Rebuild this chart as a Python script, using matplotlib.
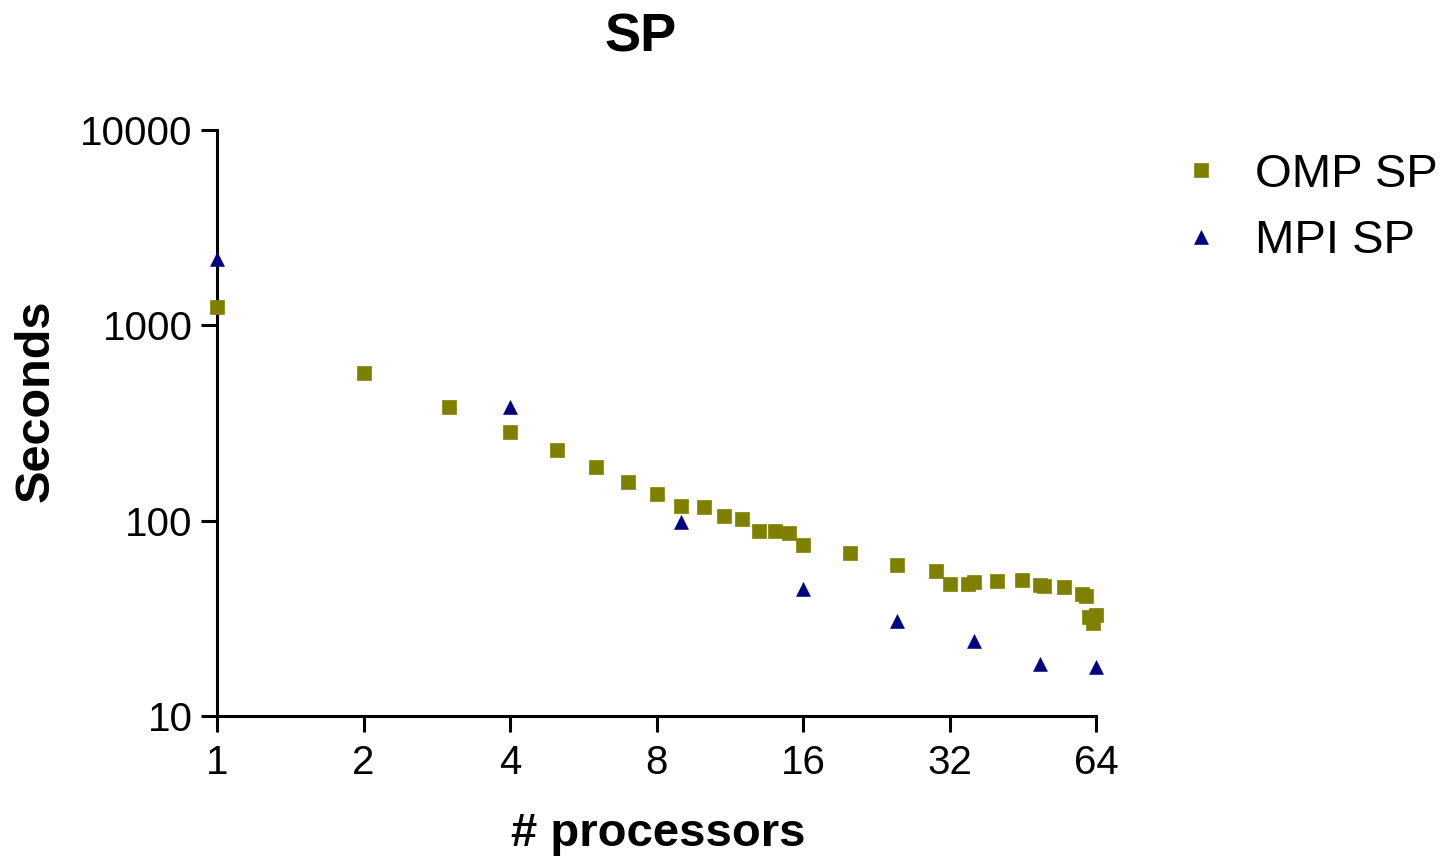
import matplotlib
matplotlib.use('Agg')
from matplotlib import pyplot as plt
from matplotlib import ticker

# OMP SP timings
omp_procs = [1, 2, 3, 4, 5, 6, 7, 8, 9, 10, 11, 12, 13, 14, 15, 16,
             20, 25, 30, 32, 35, 36, 40, 45, 49, 50, 55, 60, 61, 62, 63, 64]
omp_secs = [1236, 572, 380, 284, 230, 188, 158, 137, 119, 118, 106, 102, 89, 89, 86, 75,
            68.5, 59.5, 55.4, 47.5, 47.6, 48.7, 49.1, 49.6, 46.6, 46.2, 45.5, 42.1, 41.2, 32.2, 30.0, 32.7]

# MPI SP timings
mpi_procs = [1, 4, 9, 16, 25, 36, 49, 64]
mpi_secs = [2180, 383, 98.7, 44.5, 30.8, 24.3, 18.5, 17.9]

xticks = [1, 2, 4, 8, 16, 32, 64]
yticks = [10, 100, 1000, 10000]

plt.rcParams['font.family'] = ['Liberation Sans', 'DejaVu Sans']

W, H = 1446, 861
fig = plt.figure(figsize=(W / 100, H / 100), dpi=100)
ax = fig.add_axes([217 / W, 1 - 716 / H, (1096 - 217) / W, (716 - 130) / H])

ax.plot(omp_procs, omp_secs, 's', color='#808000', ms=9.4, mec='#808000', mew=0.5,
        label='OMP SP', clip_on=False, zorder=3)
ax.plot(mpi_procs, mpi_secs, '^', color='#000080', ms=10.5, mec='#000080', mew=0.4,
        label='MPI SP', clip_on=False, zorder=3)

ax.set_xscale('log', base=2)
ax.set_yscale('log')
ax.set_xlim(1, 64)
ax.set_ylim(10, 10000)
ax.set_xticks(xticks)
ax.set_yticks(yticks)
ax.xaxis.set_major_formatter(ticker.FuncFormatter(lambda v, p: '%d' % v))
ax.yaxis.set_major_formatter(ticker.FuncFormatter(lambda v, p: '%d' % v))
ax.xaxis.set_minor_locator(ticker.NullLocator())
ax.yaxis.set_minor_locator(ticker.NullLocator())

for s in ['top', 'right']:
    ax.spines[s].set_visible(False)
for s in ['left', 'bottom']:
    ax.spines[s].set_linewidth(2.2)
    ax.spines[s].set_capstyle('projecting')

ax.tick_params(axis='both', direction='out', length=11.5, width=2.2, labelsize=29)
ax.tick_params(axis='x', pad=9)
ax.tick_params(axis='y', pad=6)

fig.text(641 / W, 1 - 38 / H, 'SP', fontsize=39, fontweight='bold', ha='center', va='center')
fig.text(658 / W, 1 - 834 / H, '# processors', fontsize=34, fontweight='bold', ha='center', va='center')
fig.text(36 / W, 1 - 401 / H, 'Seconds', fontsize=35, fontweight='bold', ha='center', va='center',
         rotation=90)

leg = ax.legend(loc='upper left', bbox_to_anchor=(1177 / W, 1 - 153 / H),
                bbox_transform=fig.transFigure, frameon=False, fontsize=34,
                numpoints=1, handlelength=1.0, handletextpad=0.65,
                borderpad=0, borderaxespad=0, labelspacing=0.47)

fig.savefig('out.png', dpi=100)
